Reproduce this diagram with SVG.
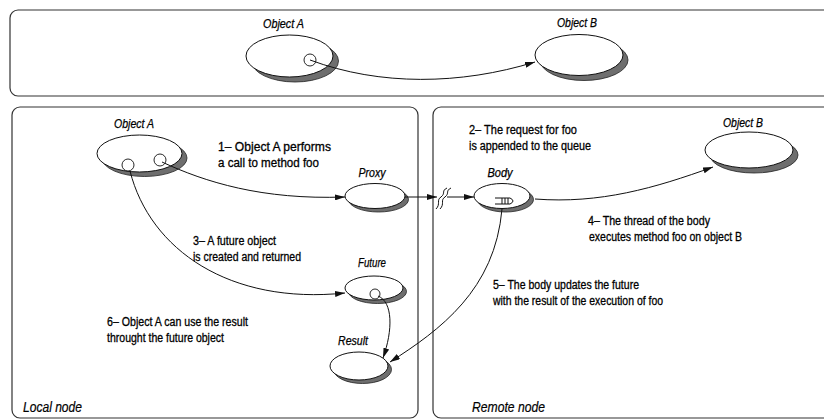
<svg xmlns="http://www.w3.org/2000/svg" width="824" height="420" viewBox="0 0 824 420">
  <style>
    .frame { fill: #ffffff; stroke: #333333; stroke-width: 1.2; }
    .shadow { fill: #6e6e6e; stroke: #222222; stroke-width: 0.8; }
    .body { fill: #ffffff; stroke: #111111; stroke-width: 1; }
    .ref { fill: #ffffff; stroke: #111111; stroke-width: 0.9; }
    .edge { fill: none; stroke: #111111; stroke-width: 1; }
    .name { font-family: "Liberation Sans", Arial, sans-serif; font-style: italic; font-size: 12px; fill: #000000; stroke: #000000; stroke-width: 0.25; text-anchor: middle; }
    .note { font-family: "Liberation Sans", Arial, sans-serif; font-size: 12.5px; fill: #000000; stroke: #000000; stroke-width: 0.3; }
    .area { font-family: "Liberation Sans", Arial, sans-serif; font-style: italic; font-size: 14px; fill: #000000; stroke: #000000; stroke-width: 0.2; }
  </style>
  <defs>
    <marker id="arrow" viewBox="0 0 10 6" refX="10" refY="3" markerWidth="10" markerHeight="6" markerUnits="userSpaceOnUse" orient="auto">
      <path d="M0,0 L10,3 L0,6 Z" fill="#111111"/>
    </marker>
  </defs>

  <rect width="824" height="420" fill="#ffffff"/>

  <!-- frames -->
  <g id="frames">
    <rect class="frame" x="10" y="10" width="840" height="86" rx="8"/>
    <rect class="frame" x="12" y="107" width="406" height="311" rx="8"/>
    <rect class="frame" x="433" y="107" width="420" height="311" rx="8"/>
    <text class="area" x="23" y="412" textLength="59" lengthAdjust="spacingAndGlyphs">Local node</text>
    <text class="area" x="472" y="412" textLength="73" lengthAdjust="spacingAndGlyphs">Remote node</text>
  </g>

  <!-- overview row -->
  <g id="top-object-a">
    <ellipse class="shadow" cx="295" cy="61" rx="43.5" ry="21"/>
    <ellipse class="body" cx="289.5" cy="56" rx="43.5" ry="21"/>
    <circle class="ref" cx="310" cy="60" r="6"/>
    <text class="name" x="283.5" y="28" textLength="41" lengthAdjust="spacingAndGlyphs">Object A</text>
  </g>
  <g id="top-object-b">
    <ellipse class="shadow" cx="584" cy="60" rx="44" ry="20.5"/>
    <ellipse class="body" cx="579" cy="55" rx="44" ry="20.5"/>
    <text class="name" x="577" y="27" textLength="40" lengthAdjust="spacingAndGlyphs">Object B</text>
  </g>

  <!-- local node -->
  <g id="object-a">
    <ellipse class="shadow" cx="144.5" cy="158" rx="42.5" ry="18.5"/>
    <ellipse class="body" cx="139.5" cy="153.5" rx="42.5" ry="18.5"/>
    <circle class="ref" cx="128" cy="165" r="6"/>
    <circle class="ref" cx="160" cy="160" r="6"/>
    <text class="name" x="134" y="128" textLength="40" lengthAdjust="spacingAndGlyphs">Object A</text>
  </g>
  <g id="proxy">
    <ellipse class="shadow" cx="378.5" cy="199.5" rx="30" ry="12.5"/>
    <ellipse class="body" cx="375" cy="196" rx="30" ry="12.5"/>
    <text class="name" x="372" y="177" textLength="27" lengthAdjust="spacingAndGlyphs">Proxy</text>
  </g>
  <g id="future">
    <ellipse class="shadow" cx="377.5" cy="291.5" rx="29" ry="12"/>
    <ellipse class="body" cx="374" cy="288" rx="29" ry="12"/>
    <circle class="ref" cx="375" cy="294" r="5"/>
    <text class="name" x="372" y="267" textLength="28" lengthAdjust="spacingAndGlyphs">Future</text>
  </g>
  <g id="result">
    <ellipse class="shadow" cx="362.5" cy="369.5" rx="29" ry="14"/>
    <ellipse class="body" cx="359" cy="366" rx="29" ry="14"/>
    <text class="name" x="353" y="345" textLength="30" lengthAdjust="spacingAndGlyphs">Result</text>
  </g>

  <!-- remote node -->
  <g id="body">
    <ellipse class="shadow" cx="505.5" cy="199.5" rx="28" ry="12.5"/>
    <ellipse class="body" cx="502" cy="196" rx="28" ry="12.5"/>
    <!-- request queue -->
    <path class="edge" d="M495,198 H510 M495,204 H510 M502,198 V204 M505,198 V204 M508,198 V204" stroke-width="0.9"/>
    <path class="edge" d="M510,198 Q516,201 510,204" stroke-width="0.9"/>
    <text class="name" x="500" y="177" textLength="25" lengthAdjust="spacingAndGlyphs">Body</text>
  </g>
  <g id="object-b">
    <ellipse class="shadow" cx="754" cy="155" rx="44" ry="18"/>
    <ellipse class="body" cx="749" cy="150" rx="44" ry="18"/>
    <text class="name" x="743" y="127" textLength="40" lengthAdjust="spacingAndGlyphs">Object B</text>
  </g>

  <!-- connectors -->
  <g id="connectors">
    <path class="edge" d="M310,60 C380,86 460,85 535,62" marker-end="url(#arrow)"/>
    <path class="edge" d="M162,162 C205,182 262,200 345,197" marker-end="url(#arrow)"/>
    <path class="edge" d="M130,171 C150,250 230,305 345,293" marker-end="url(#arrow)"/>
    <path class="edge" d="M378,296 C393,302 393,330 383,358" marker-end="url(#arrow)"/>
    <path class="edge" d="M405,197 H437" marker-end="url(#arrow)"/>
    <!-- network break -->
    <path class="edge" d="M436,209 C441,204 436,200 441,197 C446,193 441,191 447,188"/>
    <path class="edge" d="M440,209 C445,204 440,200 445,197 C450,193 445,191 451,188"/>
    <path class="edge" d="M447,197 H474" marker-end="url(#arrow)"/>
    <path class="edge" d="M535,199 C600,204 655,188 713,167" marker-end="url(#arrow)"/>
    <path class="edge" d="M502,209 C495,290 440,330 390,362" marker-end="url(#arrow)"/>
  </g>

  <!-- step notes -->
  <g id="notes">
    <text class="note" x="218" y="151" textLength="113" lengthAdjust="spacingAndGlyphs">1– Object A performs</text>
    <text class="note" x="218" y="167" textLength="101" lengthAdjust="spacingAndGlyphs">a call to method foo</text>
    <text class="note" x="469" y="134" textLength="108" lengthAdjust="spacingAndGlyphs">2– The request for foo</text>
    <text class="note" x="469" y="150" textLength="122" lengthAdjust="spacingAndGlyphs">is appended to the queue</text>
    <text class="note" x="193" y="245" textLength="83" lengthAdjust="spacingAndGlyphs">3– A future object</text>
    <text class="note" x="193" y="261" textLength="108" lengthAdjust="spacingAndGlyphs">is created and returned</text>
    <text class="note" x="588" y="225" textLength="122" lengthAdjust="spacingAndGlyphs">4– The thread of the body</text>
    <text class="note" x="589" y="241" textLength="153" lengthAdjust="spacingAndGlyphs">executes method foo on object B</text>
    <text class="note" x="493" y="289" textLength="146" lengthAdjust="spacingAndGlyphs">5– The body updates the future</text>
    <text class="note" x="493" y="305" textLength="170" lengthAdjust="spacingAndGlyphs">with the result of the execution of foo</text>
    <text class="note" x="107" y="326" textLength="141" lengthAdjust="spacingAndGlyphs">6– Object A can use the result</text>
    <text class="note" x="107" y="342" textLength="117" lengthAdjust="spacingAndGlyphs">throught the future object</text>
  </g>
</svg>
